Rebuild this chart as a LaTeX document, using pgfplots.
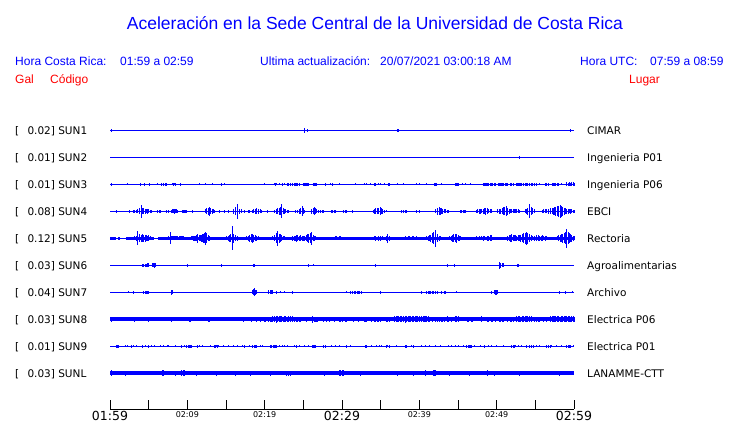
\documentclass[border=0pt]{standalone}
\usepackage{pgfplots}
\pgfplotsset{compat=1.18}
\usepackage{pgfplotstable}
\usepackage{fontspec}
\setmainfont{Liberation Sans}
\newfontfamily\dejavu{DejaVu Sans}
\definecolor{sblue}{RGB}{0,0,255}
\definecolor{sred}{RGB}{255,0,0}

% p = horizontal position (pixel column, 110 = 01:59, 574 = 02:59), a = half amplitude
\pgfplotstableread{
p a
111 1.5
305 2.7
307 1.6
397 1.3
398 1.3
399 1.3
570 1.5
}\sunA
\pgfplotstableread{
p a
519 1.3
}\sunB
\pgfplotstableread{
p a
111.7 1.3
127.3 1.2
140.3 1.3
144.7 1.4
149.3 1.4
157.3 1.1
161.7 1.3
163.7 1.4
165 1.3
167 1.4
172.3 1.2
173.3 1.3
174.3 1.2
175 1.3
180 1.3
199.3 1.2
205 1.2
212.3 1.2
221.3 1.4
224 1.2
264.3 1.1
274.3 1.2
275.3 1.3
276.7 1.2
279.3 1.2
282.7 1.3
285 1.2
287 1.3
289 1.3
290 1.5
291 1.3
292 1.4
293 1.3
294 1.5
295 1.3
296 1.4
297 1.3
298 1.4
299 1.3
300 1.4
303.3 1.4
304.3 1.5
305.3 1.4
306.3 1.3
307.3 1.5
308.3 1.4
309 1.3
313.3 1.4
314.3 1.5
315.3 1.4
316.7 1.3
325 1.3
330.7 1.2
332.7 1.3
340 1.2
356 1.2
364 1.2
366 1.2
370 1.2
374.3 1.3
375.7 1.3
378.3 1.2
380.7 1.2
384.3 1.2
388.3 1.4
389.3 1.4
390 1.3
397.3 1.1
404 1.2
416.7 1.2
420 1.2
426 1.2
434.3 1.4
435.3 1.3
436.7 1.3
441 1.1
455.7 1.3
456.7 1.4
457.7 1.3
458.3 1.3
462.3 1.2
466 1.2
470.7 1.2
483.3 1.3
484.3 1.4
485.3 1.3
486.3 1.4
487.3 1.3
488.3 1.3
490 1.4
491 1.3
492 1.4
493 1.3
494 1.4
495 1.3
495.7 1.3
498.3 1.4
499.3 1.3
500.3 1.3
501.3 1.4
502.3 1.3
503.3 1.3
505.7 1.3
506.7 1.4
507.7 1.3
510 1.3
511 1.4
512 1.3
513.3 1.3
516.7 1.4
517.7 1.3
518.7 1.4
519.7 1.3
520.7 1.3
521.7 1.4
524 1.4
525 1.3
526 1.4
527 1.3
528 1.4
529 1.3
530 1.3
532 1.3
533 1.4
534 1.3
535 1.4
536 1.3
540 1.2
545 1.3
546 1.4
547 1.3
548 1.3
552 1.3
553 1.4
554 1.3
555 1.4
556 1.3
557 1.4
558 1.3
561.7 1.2
566 1.6
567 1.8
568 1.7
569 1.8
570 1.7
571 1.8
572 1.7
573 1.8
574 1.7
}\sunC
\pgfplotstableread{
p a
116.7 1.3
129.3 1.3
133 1.5
134 1.6
135 1.5
136 1.4
137 1.5
138 2.0
139 3.0
140 2.6
141 6.5
142 3.2
143 2.8
144 3.0
145 2.3
146 2.0
147 2.4
148 1.8
149 1.6
150 1.5
151 1.4
157 1.7
158 1.6
159 1.7
160 1.5
167 1.5
168 1.4
171 1.6
172 2.0
173 2.2
174 2.7
175 2.0
176 1.8
177 1.7
178 1.5
182 1.6
183 1.7
184 1.6
185 1.7
186 1.6
187 1.7
192 1.3
205 1.8
206 2.2
207 2.8
208 3.5
209 4.5
210 3.2
211 2.8
212 2.5
213 2.0
214 1.8
215 1.6
220 1.3
224 1.5
228 1.3
233 1.8
234 2.5
235 3.0
236 4.0
237 7.3
238 3.2
239 2.6
240 2.2
241 1.8
242 1.6
244 1.3
248 1.5
249 1.6
250 1.5
253 1.7
254 2.2
255 2.6
256 3.0
257 2.5
258 2.7
259 2.2
260 1.8
261 1.6
262 1.4
267 1.3
275 1.6
276 2.0
277 2.6
278 3.0
279 3.4
280 4.2
281 7.0
282 4.0
283 3.0
284 2.7
285 2.3
286 2.0
287 1.7
288 1.5
295 1.3
298 1.7
299 2.2
300 2.7
301 3.2
302 5.0
303 2.8
304 2.2
305 1.6
311 1.8
312 2.4
313 3.0
314 4.0
315 3.2
316 2.6
317 2.0
318 1.6
321 1.7
322 1.7
323 1.6
331 1.7
332 1.6
333 1.7
334 1.7
335 1.6
336 1.5
344 1.7
345 1.7
346 1.6
352 1.3
373 1.6
374 2.0
375 2.5
376 2.8
377 3.0
378 2.6
379 3.2
380 3.8
381 2.8
382 2.4
383 2.0
384 1.6
386 1.2
401 1.3
403 1.7
404 1.7
405 1.7
406 1.6
407 1.6
416 1.5
420 1.5
435 1.7
436 2.2
437 2.8
438 3.3
439 4.0
440 3.6
441 3.0
442 2.6
443 2.4
444 2.2
445 2.0
446 1.8
447 1.7
448 1.5
461 1.7
462 1.7
463 1.7
464 1.7
465 1.6
477 1.7
478 2.0
479 2.3
480 2.5
481 2.2
482 2.0
483 2.4
484 2.7
485 3.0
486 3.3
487 2.8
488 2.4
489 2.2
490 2.0
491 1.8
492 1.6
497 1.7
498 2.0
499 2.2
500 2.5
501 2.3
502 2.8
503 3.2
504 3.8
505 4.2
506 5.0
507 3.6
508 3.0
509 2.6
510 2.2
511 1.9
512 1.7
513 2.0
514 2.1
515 1.9
516 2.0
517 1.9
518 1.8
519 1.7
520 1.6
525 2.0
526 2.5
527 3.0
528 3.6
529 4.5
530 6.8
531 4.2
532 3.4
533 2.8
534 2.2
535 1.8
543 1.7
544 1.9
545 2.1
546 2.0
547 2.2
548 2.4
549 2.6
550 2.5
551 2.8
552 3.0
553 3.4
554 3.6
555 4.0
556 4.5
557 4.8
558 5.2
559 5.6
560 6.3
561 5.4
562 4.6
563 4.0
564 3.4
565 2.8
566 2.6
567 2.4
568 2.5
569 2.2
570 2.4
571 2.0
572 1.8
573 1.6
574 1.4
}\sunD
\pgfplotstableread{
p a
135 2.0
136 2.6
137 3.2
138 7.0
139 3.8
140 3.0
141 3.5
142 4.0
143 3.4
144 3.0
145 3.6
146 2.8
147 2.6
148 3.0
149 2.4
150 2.0
169 2.2
170 6.2
171 2.2
172 2.0
173 2.2
174 2.0
175 2.1
176 2.0
177 2.2
178 2.0
179 1.9
180 2.1
181 2.0
182 1.9
183 2.0
191 2.0
192 2.2
193 2.4
194 2.6
195 2.4
196 3.0
197 3.5
198 4.5
199 3.2
200 3.0
201 3.4
202 3.8
203 4.4
204 5.2
205 6.7
206 4.8
207 3.8
208 3.0
209 2.4
210 2.0
227 2.2
228 2.6
229 3.0
230 3.4
231 3.8
232 12.2
233 4.6
234 3.8
235 3.2
236 2.8
237 2.4
238 2.0
247 2.2
248 2.6
249 3.0
250 3.4
251 4.0
252 4.5
253 3.8
254 3.4
255 3.0
256 2.6
257 2.3
258 2.0
273 2.2
274 2.6
275 3.2
276 4.0
277 5.0
278 7.5
279 4.6
280 3.8
281 3.2
282 2.6
283 2.2
284 2.0
292 2.2
293 2.5
294 2.3
295 2.6
296 3.0
297 3.5
298 2.8
299 2.4
300 2.6
301 3.0
302 2.5
303 2.2
304 2.4
305 2.6
306 3.0
307 3.4
308 4.0
309 4.6
310 5.2
311 6.7
312 4.2
313 3.2
314 2.6
315 2.2
335 2.0
337 2.2
339 2.0
341 2.2
374 2.2
376 2.4
378 2.3
380 2.5
382 2.2
387 2.6
388 4.5
389 2.6
406 2.0
408 2.1
410 2.0
412 2.2
414 2.0
416 2.1
427 2.2
428 2.6
429 3.0
430 3.2
431 3.6
432 4.2
433 5.0
434 6.2
435 8.7
436 5.2
437 4.0
438 3.2
439 2.6
440 2.2
450 2.2
451 2.6
452 3.0
453 3.4
454 3.8
455 4.0
456 4.3
457 3.4
458 2.8
459 2.4
460 2.0
477 2.0
479 2.2
481 2.0
483 2.3
485 2.1
487 2.4
489 2.6
490 2.8
491 3.2
507 2.2
508 2.6
509 3.0
510 3.6
511 4.0
512 3.6
513 3.2
514 3.0
515 2.8
516 2.6
517 2.6
518 2.8
519 3.0
520 3.2
521 3.6
522 4.0
523 4.4
524 5.0
525 5.6
526 6.3
527 5.4
528 4.6
529 3.8
530 3.2
531 2.8
532 2.5
533 2.2
534 2.3
535 2.5
536 3.0
537 2.4
538 2.2
539 2.8
540 2.3
541 2.6
542 3.0
543 2.4
544 2.2
545 2.5
546 2.2
557 2.2
558 2.6
559 3.0
560 3.4
561 3.8
562 4.2
563 4.6
564 5.2
565 6.0
566 7.0
567 9.5
568 6.0
569 5.0
570 4.2
571 3.6
572 3.0
573 2.6
574 2.2
}\sunE
\pgfplotstableread{
p a
142 1.5
143 1.5
144 1.5
145 1.5
146 1.7
147 1.8
148 2.0
149 1.7
152 1.8
153 2.0
154 2.3
155 1.8
187.7 1.3
221.3 1.3
253.3 1.5
254.3 1.5
308.3 1.3
313.3 1.0
376 1.3
447.3 1.3
454.7 1.3
500 3.3
501 2.5
502 1.8
503.3 2.0
517.7 1.5
518.5 1.5
}\sunF
\pgfplotstableread{
p a
129 1.0
133.3 1.3
143 1.7
144 1.7
145 1.7
146 1.7
147 1.7
148 1.6
171 2.3
172 2.0
252.7 2.0
253.5 3.0
254.3 4.0
255 2.5
256 2.0
257 1.8
268 2.0
269 2.0
270 2.2
271 2.0
272 1.8
276.3 1.3
280.7 1.0
284.3 1.0
292.3 1.3
346 1.0
351 1.7
352 1.7
353 1.7
354 1.7
355 1.7
356 1.7
357 1.7
358 1.7
359 1.7
360 1.7
361 1.7
380 1.3
421.7 1.3
426 1.7
427 1.7
428 1.7
429 1.7
430 1.7
431 1.7
432 1.7
433 1.7
434 1.7
435 1.7
436 1.7
437 1.7
438 1.7
441.7 1.3
444 1.3
446 1.3
456 1.0
491 1.5
494 2.0
495 2.3
496 2.5
497 2.0
559.3 1.3
565 1.3
572.3 1.0
}\sunG
\pgfplotstableread{
p a
111 2.3
134 2.3
148.3 2.5
153.3 2.0
171.7 2.3
189 2.5
190 2.5
208 2.5
209 2.5
227.7 2.0
243.3 2.3
251 2.5
256.7 2.3
261 2.3
264.5 2.7
265.5 2.7
268 2.7
269 2.6
270 2.7
271 2.6
273 2.8
274 3.0
275 3.2
276 3.4
277 3.5
278 3.2
279 3.0
280 2.8
282 2.8
283 2.7
284 2.8
285 2.6
286 2.8
287 2.7
288 2.8
289 2.6
290 2.8
291 2.7
292 2.6
293 2.8
294 2.6
297 2.5
298 2.5
300 2.5
301 2.4
306.7 2.3
312.3 3.3
314.5 2.7
315.5 2.7
316.5 2.6
317.5 2.7
323.3 2.3
326.7 2.3
330 2.3
334.3 2.3
340 2.5
341 2.4
343 2.5
345 2.4
347 2.3
353.3 2.5
358.3 2.5
364 2.7
365 2.6
366 2.7
367 2.6
371 2.3
375 2.7
376 2.6
377 2.7
379 2.6
380 2.7
386.7 2.7
388 2.6
389 2.7
395 2.8
396 2.9
397 3.0
398 2.8
399 3.0
400 2.9
401 3.1
402 2.9
403 3.0
404 3.2
405 3.3
406 3.4
407 3.0
408 2.8
409 3.0
410 2.8
411 2.9
412 3.0
413 2.8
414 2.9
415 3.0
416 2.8
417 2.7
418 2.8
420 3.0
421 2.9
422 3.0
423 2.9
424 3.0
425 3.0
426 2.9
427 3.0
428 2.8
429 2.7
433 2.7
435 2.6
437 2.7
439 2.6
441 2.7
443 2.6
445 2.7
447 2.8
449 2.7
451 2.6
455 3.0
456 3.0
457 3.0
458 2.9
467 2.3
469 2.3
471 2.4
473 2.3
481.7 3.2
487 2.5
489 2.6
491 2.5
493 2.5
495 2.6
499 2.7
500 2.7
501 2.6
502 2.7
503 2.6
507 2.5
508 2.5
510 2.5
511 2.4
513 2.5
516 2.8
517 2.7
518 2.8
519 2.9
520 2.8
521 2.7
522 2.9
523 2.8
524 3.0
525 3.1
526 3.2
527 3.0
528 2.9
529 2.8
530 2.7
531 2.8
534 2.5
536 2.5
538 2.5
540 2.4
544 2.3
546 2.3
551 2.8
552 2.9
553 2.8
554 3.0
555 3.2
556 2.9
557 2.8
558 2.9
559 2.8
560 2.7
561 2.9
562 2.8
563 2.7
564 2.9
565 2.8
566 2.7
567 2.8
568 2.9
569 2.8
570 2.7
571 2.9
572 2.8
573 2.8
574 2.7
}\sunH
\pgfplotstableread{
p a
116 1.3
117 1.3
118 1.5
125 1.2
127.3 1.2
131.7 1.5
133.3 1.2
136.7 1.2
142.3 1.3
145 1.2
148.3 1.5
151.7 1.2
154 1.2
160 1.2
163.3 1.2
167.3 1.2
169 1.2
175.7 1.2
181.7 1.3
184 1.2
187 1.4
188 1.4
189 1.6
190 1.4
191 1.3
197 1.3
198 1.3
199 1.2
202.3 1.2
211 1.2
214.3 1.3
215.3 1.3
216.3 1.2
217.3 1.3
218.3 1.2
223.3 1.2
228.3 1.2
233.3 1.2
237.3 1.2
242.3 1.2
245 1.3
249 1.2
252.3 1.4
254.3 1.3
255.3 1.5
256.7 1.3
260 1.2
262.7 1.2
270 1.3
271.7 1.3
273.3 1.3
274.3 1.4
275.3 1.3
276.7 1.3
279 1.2
282.7 1.2
285 1.2
287.7 1.2
294 1.2
296.7 1.4
299 1.2
305 1.2
309 1.2
312.3 1.4
313.3 1.3
314.3 1.4
315.7 1.3
323.3 1.3
325 1.3
331.7 1.2
335 1.2
340 1.2
346 1.4
351 1.2
365 1.4
366.7 1.3
371.7 1.2
376.7 1.2
379.3 1.2
381.7 1.2
386.7 1.3
388 1.2
389.3 1.3
396 1.2
405 1.3
406.7 1.3
411.7 1.2
413 1.3
414 1.2
421.7 1.2
425 1.2
430 1.2
435 1.2
440 1.2
448.3 1.2
451.7 1.2
455 1.2
458.3 1.2
463.3 1.2
466.7 1.3
468 1.3
469.3 1.4
470.7 1.3
471.7 1.3
475 1.2
480 1.2
485 1.3
488.3 1.2
491.7 1.2
496.7 1.2
503.3 1.2
511.7 1.3
513 1.3
514 1.3
515 1.2
518.3 1.2
521.7 1.2
526.7 1.3
530 1.3
531 1.4
532 1.3
533.3 1.3
536.7 1.2
540 1.2
546.7 1.3
548 1.4
549 1.3
550 1.3
551.7 1.2
556.7 1.2
561.7 1.2
566.7 1.3
568 1.3
569 1.4
570 1.3
573.3 1.2
}\sunI
\pgfplotstableread{
p a
111 2.8
125.7 2.5
162.3 3.0
163.3 3.0
175 2.5
181.7 3.0
183 2.8
184.3 3.0
196.7 2.5
216.7 2.5
235.7 2.3
250.7 2.5
270.7 2.5
286.7 2.7
288 2.7
289 2.6
290 2.7
324.3 2.5
340 3.0
341 2.8
342 2.9
343.3 3.0
360.7 2.6
397.3 2.3
414 2.3
425.7 3.0
433.3 3.0
434.3 2.8
435 3.0
449.3 2.5
469.3 2.4
487.7 3.0
494 2.7
519.3 2.4
559.3 2.5
}\sunL

\pgfplotsset{
  spk/.style={draw=none, mark=none, forget plot,
    error bars/.cd, y dir=both, y explicit, error mark=none,
    error bar style={draw=sblue, line width=1pt}},
  base/.style={sblue, line width=1.3pt, forget plot, mark=none},
}

\begin{document}
\begin{tikzpicture}[x=1pt,y=1pt]
\path (0,0) rectangle (740,423);
\begin{axis}[
  at={(110pt,14pt)}, anchor=south west,
  scale only axis, width=464pt, height=409pt,
  xmin=0, xmax=60, ymin=14, ymax=423,
  axis x line=bottom, axis y line=none,
  axis line style={-, black, line width=0.8pt},
  xtick={0,5,...,60},
  xticklabels={{\fontsize{12.5}{13}\selectfont 01:59},{},{\fontsize{8}{8}\selectfont 02:09},{},{\fontsize{8}{8}\selectfont 02:19},{},{\fontsize{12.5}{13}\selectfont 02:29},{},{\fontsize{8}{8}\selectfont 02:39},{},{\fontsize{8}{8}\selectfont 02:49},{},{\fontsize{12.5}{13}\selectfont 02:59}},
  xticklabel style={font=\dejavu, inner sep=0pt, anchor=north, yshift=-2pt},
  xtick align=inside, major tick length=9pt,
  tick style={black, line width=0.8pt},
  ytick=\empty, clip=false,
]
% baselines
\addplot[base] coordinates {(0,292.7) (60,292.7)};
\addplot[base] coordinates {(0,265.7) (60,265.7)};
\addplot[base] coordinates {(0,238.7) (60,238.7)};
\addplot[base] coordinates {(0,211.7) (60,211.7)};
\addplot[base] coordinates {(0,184.7) (60,184.7)};
\addplot[base, line width=3pt] coordinates {(0,184.7) (0.78,184.7)};
\addplot[base, line width=3pt] coordinates {(1.03,184.7) (1.29,184.7)};
\addplot[base, line width=3pt] coordinates {(2.07,184.7) (5.69,184.7)};
\addplot[base, line width=3pt] coordinates {(6.21,184.7) (60,184.7)};
\addplot[base] coordinates {(0,157.7) (60,157.7)};
\addplot[base] coordinates {(0,130.7) (60,130.7)};
\addplot[base, line width=3.6pt] coordinates {(0,103.7) (60,103.7)};
\addplot[base] coordinates {(0,76.7) (60,76.7)};
\addplot[base, line width=3.8pt] coordinates {(0,49.7) (60,49.7)};
% activity
\addplot[spk] table[x expr=(\thisrow{p}-110)/7.73333, y expr=292.7, y error=a] {\sunA};
\addplot[spk] table[x expr=(\thisrow{p}-110)/7.73333, y expr=265.7, y error=a] {\sunB};
\addplot[spk] table[x expr=(\thisrow{p}-110)/7.73333, y expr=238.7, y error=a] {\sunC};
\addplot[spk] table[x expr=(\thisrow{p}-110)/7.73333, y expr=211.7, y error=a] {\sunD};
\addplot[spk] table[x expr=(\thisrow{p}-110)/7.73333, y expr=184.7, y error=a] {\sunE};
\addplot[spk] table[x expr=(\thisrow{p}-110)/7.73333, y expr=157.7, y error=a] {\sunF};
\addplot[spk] table[x expr=(\thisrow{p}-110)/7.73333, y expr=130.7, y error=a] {\sunG};
\addplot[spk] table[x expr=(\thisrow{p}-110)/7.73333, y expr=103.7, y error=a] {\sunH};
\addplot[spk] table[x expr=(\thisrow{p}-110)/7.73333, y expr=76.7, y error=a] {\sunI};
\addplot[spk] table[x expr=(\thisrow{p}-110)/7.73333, y expr=49.7, y error=a] {\sunL};
\end{axis}

% titles
\node[anchor=base, text=sblue, font=\fontsize{17.5}{18}\selectfont] at (375,393.7) {Aceleración en la Sede Central de la Universidad de Costa Rica};
\begin{scope}[every node/.style={anchor=base west, inner sep=0pt, font=\fontsize{12}{13}\selectfont}]
\node[text=sblue] at (15,357.7) {Hora Costa Rica:};
\node[text=sblue] at (120,357.7) {01:59 a 02:59};
\node[text=sblue] at (260,357.7) {Ultima actualización:};
\node[text=sblue] at (380,357.7) {20/07/2021 03:00:18 AM};
\node[text=sblue] at (580,357.7) {Hora UTC:};
\node[text=sblue] at (650,357.7) {07:59 a 08:59};
\node[text=sred] at (15,339) {Gal};
\node[text=sred] at (50,339) {Código};
\node[text=sred] at (629,339) {Lugar};
\end{scope}

\begin{scope}[every node/.style={anchor=base west, inner sep=0pt, font=\dejavu\fontsize{10.5}{12}\selectfont}]
\foreach \v/\c/\l [count=\i from 0] in {0.02/SUN1/CIMAR, 0.01/SUN2/Ingenieria P01, 0.01/SUN3/Ingenieria P06, 0.08/SUN4/EBCI, 0.12/SUN5/Rectoria, 0.03/SUN6/Agroalimentarias, 0.04/SUN7/Archivo, 0.03/SUN8/Electrica P06, 0.01/SUN9/Electrica P01, 0.03/SUNL/LANAMME-CTT}{
  \pgfmathsetmacro\yy{292.7-27*\i-3.8}
  \node at (15,\yy) {[};
  \node at (27.3,\yy) {\v] \c};
  \node at (587,\yy) {\l};
}
\end{scope}
\end{tikzpicture}
\end{document}
